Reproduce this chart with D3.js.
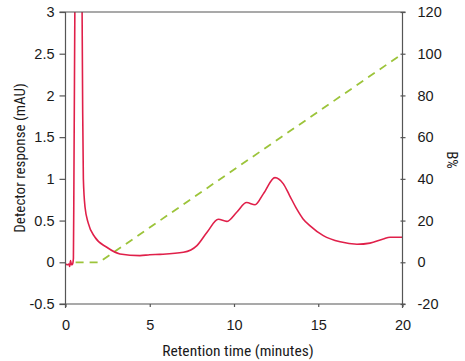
<!DOCTYPE html>
<html>
<head>
<meta charset="utf-8">
<script src="https://cdn.jsdelivr.net/npm/d3@7"></script>
<style>
  html, body { margin: 0; padding: 0; background: #fff; }
  svg { display: block; }
  text { font-family: "Liberation Sans Narrow", "Roboto Condensed", "Arial Narrow", sans-serif; fill: #1a1a1a; }
</style>
</head>
<body>
<svg id="chart" width="465" height="361"></svg>
<script>
// Detector trace (mAU) against retention time (minutes)
const traceTime = [0, 0.1, 0.2, 0.25, 0.3, 0.35, 0.42, 0.47, 0.5, 0.56, 0.78, 0.98, 1.02, 1.06,
  1.16, 1.35, 1.75, 2.45, 3.23, 4.42, 5.0, 5.6, 7.0, 7.8, 8.4, 9.07, 9.57, 10.16, 10.75,
  11.25, 11.74, 12.43, 12.93, 13.3, 13.72, 14.1, 14.5, 15.3, 16.3, 17.3, 18.07, 18.86, 19.26, 20];
const traceSignal = [-0.02, -0.03, -0.02, -0.05, 0.02, -0.03, -0.02, 0.05, 1.0, 3.2, 9, 3.2, 1.8, 1.0,
  0.66, 0.47, 0.30, 0.18, 0.10, 0.08, 0.09, 0.095, 0.12, 0.2, 0.36, 0.515, 0.49, 0.60, 0.716,
  0.69, 0.82, 1.015, 0.94, 0.80, 0.64, 0.52, 0.44, 0.32, 0.245, 0.216, 0.23, 0.28, 0.30, 0.30];

// Gradient programme, solvent B (%)
const gradientTime = [0.6, 2.0, 20];
const gradientB = [0, 0, 100];

// Axis ticks
const timeTicks = [0, 5, 10, 15, 20];
const signalTicks = [-0.5, 0, 0.5, 1, 1.5, 2, 2.5, 3];
const bTicks = [-20, 0, 20, 40, 60, 80, 100, 120];

const svg = d3.select("#chart");
const plotLeft = 65.5, plotRight = 402.5, plotTop = 12, plotBottom = 304;

const x = d3.scaleLinear().domain([0, 20]).range([plotLeft, plotRight]);
const y = d3.scaleLinear().domain([-0.5, 3]).range([plotBottom, plotTop]);
const yB = d3.scaleLinear().domain([-20, 120]).range([plotBottom, plotTop]);

const axisColor = "#555";
const fmt = v => String(v);

svg.append("defs").append("clipPath").attr("id", "plotClip")
  .append("rect").attr("x", plotLeft).attr("y", plotTop)
  .attr("width", plotRight - plotLeft).attr("height", plotBottom - plotTop);

// Gradient line (dashed)
const gradLine = d3.line().x(d => x(d[0])).y(d => yB(d[1]));
svg.append("path")
  .datum(gradientTime.map((t, i) => [t, gradientB[i]]))
  .attr("d", gradLine)
  .attr("fill", "none")
  .attr("stroke", "#9cc43a")
  .attr("stroke-width", 1.8)
  .attr("stroke-dasharray", "8,6");

// Detector trace
const traceLine = d3.line().x(d => x(d[0])).y(d => y(d[1])).curve(d3.curveMonotoneX);
svg.append("path")
  .datum(traceTime.map((t, i) => [t, traceSignal[i]]))
  .attr("clip-path", "url(#plotClip)")
  .attr("d", traceLine)
  .attr("fill", "none")
  .attr("stroke", "#e0204a")
  .attr("stroke-width", 1.6);

// Frame line along the top
svg.append("line")
  .attr("x1", plotLeft - 6).attr("x2", plotRight + 3)
  .attr("y1", plotTop).attr("y2", plotTop)
  .attr("stroke", axisColor).attr("stroke-width", 1.2);

// Left axis
const gLeft = svg.append("g").attr("transform", `translate(${plotLeft},0)`)
  .call(d3.axisLeft(y).tickValues(signalTicks).tickSize(6).tickPadding(5).tickFormat(fmt));
gLeft.select(".domain").remove();
gLeft.append("line").attr("x1", 0).attr("x2", 0).attr("y1", plotTop).attr("y2", plotBottom + 4);

// Right axis
const gRight = svg.append("g").attr("transform", `translate(${plotRight},0)`)
  .call(d3.axisRight(yB).tickValues(bTicks).tickSize(3).tickPadding(12).tickFormat(fmt));
gRight.select(".domain").remove();
gRight.selectAll(".tick line").attr("x1", -2);
gRight.append("line").attr("x1", 0).attr("x2", 0).attr("y1", plotTop).attr("y2", plotBottom + 4);

// Bottom axis
const gBottom = svg.append("g").attr("transform", `translate(0,${plotBottom})`)
  .call(d3.axisBottom(x).tickValues(timeTicks).tickSize(3).tickPadding(13).tickFormat(fmt));
gBottom.select(".domain").remove();
gBottom.append("line").attr("x1", plotLeft - 6).attr("x2", plotRight + 3).attr("y1", 0).attr("y2", 0);

[gLeft, gRight, gBottom].forEach(g => {
  g.selectAll("line").attr("stroke", axisColor).attr("stroke-width", 1.2);
  g.selectAll("text").attr("font-size", 14.5).attr("fill", "#1a1a1a")
    .style("font-family", "\"Liberation Sans Narrow\", \"Arial Narrow\", sans-serif");
});

// Axis titles
svg.append("text")
  .attr("transform", `translate(238,356)`)
  .attr("text-anchor", "middle")
  .attr("font-size", 15.5)
  .text("Retention time (minutes)");

svg.append("text")
  .attr("transform", `translate(25,158) rotate(-90)`)
  .attr("text-anchor", "middle")
  .attr("font-size", 15)
  .text("Detector response (mAU)");

svg.append("text")
  .attr("transform", `translate(447,160) rotate(90)`)
  .attr("text-anchor", "middle")
  .attr("font-size", 15)
  .text("B%");
</script>
</body>
</html>
